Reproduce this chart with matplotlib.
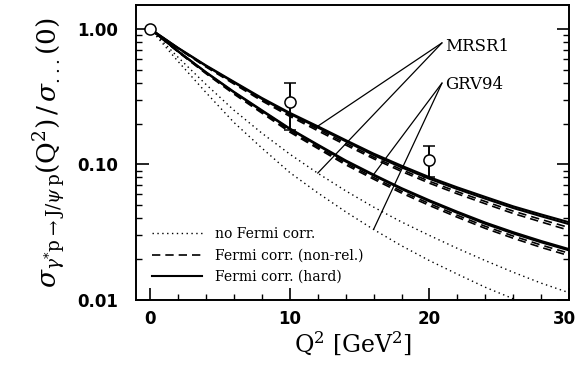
import numpy as np
import matplotlib
matplotlib.use("Agg")
import matplotlib.pyplot as plt
import matplotlib.transforms as mtransforms
from matplotlib.ticker import FixedLocator, MultipleLocator, NullFormatter

plt.rcParams["mathtext.fontset"] = "dejavuserif"

# Q^2 grid [GeV^2]
q2 = [0, 2, 4, 6, 8, 10, 12, 14, 16, 18, 20, 22, 24, 26, 28, 30]

# MRSR1 curves (upper group)
mrsr1_hard_a = [1.0, 0.724, 0.537, 0.407, 0.309, 0.240, 0.191, 0.151, 0.120, 0.0977, 0.0804, 0.0676, 0.0575, 0.0490, 0.0427, 0.0374]
mrsr1_hard_b = [1.0, 0.720, 0.532, 0.402, 0.304, 0.236, 0.187, 0.148, 0.117, 0.0950, 0.0782, 0.0657, 0.0558, 0.0476, 0.0414, 0.0362]
mrsr1_nonrel_a = [1.0, 0.718, 0.528, 0.397, 0.299, 0.231, 0.182, 0.143, 0.113, 0.0915, 0.0750, 0.0628, 0.0532, 0.0452, 0.0392, 0.0342]
mrsr1_nonrel_b = [1.0, 0.714, 0.523, 0.392, 0.294, 0.226, 0.177, 0.139, 0.110, 0.0887, 0.0726, 0.0606, 0.0512, 0.0434, 0.0376, 0.0326]
mrsr1_nofermi = [1.0, 0.617, 0.389, 0.251, 0.170, 0.119, 0.0861, 0.0638, 0.0484, 0.0376, 0.0299, 0.0240, 0.0195, 0.0160, 0.0133, 0.0113]

# GRV94 curves (lower group)
grv94_hard_a = [1.0, 0.684, 0.479, 0.343, 0.251, 0.184, 0.140, 0.107, 0.0841, 0.0668, 0.0543, 0.0447, 0.0372, 0.0316, 0.0272, 0.0237]
grv94_hard_b = [1.0, 0.681, 0.476, 0.340, 0.248, 0.182, 0.138, 0.105, 0.0828, 0.0657, 0.0533, 0.0438, 0.0364, 0.0309, 0.0266, 0.0232]
grv94_nonrel_a = [1.0, 0.678, 0.471, 0.335, 0.243, 0.177, 0.134, 0.102, 0.0800, 0.0633, 0.0513, 0.0421, 0.0349, 0.0296, 0.0254, 0.0221]
grv94_nonrel_b = [1.0, 0.675, 0.467, 0.330, 0.239, 0.173, 0.131, 0.0993, 0.0778, 0.0614, 0.0497, 0.0407, 0.0337, 0.0285, 0.0244, 0.0212]
grv94_nofermi = [1.0, 0.575, 0.339, 0.204, 0.132, 0.0871, 0.0617, 0.0447, 0.0331, 0.0251, 0.0195, 0.0155, 0.0124, 0.0102, 0.00841, 0.00692]

# data points
data_q2 = [0, 10, 20]
data_val = [1.0, 0.29, 0.107]
data_lo = [0.0, 0.11, 0.027]
data_hi = [0.0, 0.11, 0.029]

fig = plt.figure(figsize=(5.79, 3.74), dpi=100)
ax = fig.add_axes([0.235, 0.198, 0.748, 0.789])

dash = (0, (5, 3))
dots = (0, (1, 2.5))
for y in (mrsr1_hard_a, mrsr1_hard_b, grv94_hard_a, grv94_hard_b):
    ax.plot(q2, y, color="black", lw=1.5, solid_joinstyle="round")
for y in (mrsr1_nonrel_a, mrsr1_nonrel_b, grv94_nonrel_a, grv94_nonrel_b):
    ax.plot(q2, y, color="black", lw=1.2, linestyle=dash)
for y in (mrsr1_nofermi, grv94_nofermi):
    ax.plot(q2, y, color="black", lw=1.0, linestyle=dots)

ax.errorbar(data_q2, data_val, yerr=[data_lo, data_hi], fmt="o", mfc="white",
            mec="black", ecolor="black", ms=8, mew=1.1, elinewidth=1.4,
            capsize=4, capthick=1.3, zorder=5)

# curve labels with pointer lines
ax.text(21.1, 0.735, "MRSR1", fontsize=12, family="DejaVu Serif", va="center", ha="left")
ax.text(21.1, 0.385, "GRV94", fontsize=12, family="DejaVu Serif", va="center", ha="left")
for xi, yi in ((12, mrsr1_hard_a[6]), (12, mrsr1_nofermi[6])):
    ax.annotate("", xy=(xi, yi), xytext=(20.9, 0.787),
                arrowprops=dict(arrowstyle="-", color="black", lw=0.9, shrinkA=0, shrinkB=0))
for xi, yi in ((16, grv94_hard_a[8]), (16, grv94_nofermi[8])):
    ax.annotate("", xy=(xi, yi), xytext=(20.9, 0.398),
                arrowprops=dict(arrowstyle="-", color="black", lw=0.9, shrinkA=0, shrinkB=0))

# legend
h1, = ax.plot([], [], color="black", lw=1.0, linestyle=dots)
h2, = ax.plot([], [], color="black", lw=1.2, linestyle=dash)
h3, = ax.plot([], [], color="black", lw=1.5)
leg = ax.legend([h1, h2, h3], ["no Fermi corr.", "Fermi corr. (non-rel.)", "Fermi corr. (hard)"],
                loc="lower left", frameon=False, handlelength=3.6,
                handletextpad=0.9, labelspacing=0.55, borderaxespad=0.0,
                bbox_to_anchor=(0.025, 0.035), prop={"family": "DejaVu Serif", "size": 10})

ax.set_yscale("log")
ax.set_xlim(-1, 30)
ax.set_ylim(0.01, 1.5)
ax.yaxis.set_major_locator(FixedLocator([0.01, 0.1, 1.0]))
ax.set_yticklabels(["0.01", "0.10", "1.00"])
ax.yaxis.set_minor_locator(FixedLocator([k * 10.0 ** e for e in (-2, -1) for k in range(2, 10)]))
ax.yaxis.set_minor_formatter(NullFormatter())
ax.xaxis.set_major_locator(FixedLocator([0, 10, 20, 30]))
ax.set_xticklabels(["0", "10", "20", "30"])
ax.xaxis.set_minor_locator(MultipleLocator(2))

ax.tick_params(which="major", direction="in", length=9, width=1.2, labelsize=12, pad=7)
ax.tick_params(axis="y", which="major", pad=13)
ax.tick_params(which="minor", direction="in", length=4, width=1.0)
ax.tick_params(axis="y", which="both", right=True)
for lab in ax.get_xticklabels() + ax.get_yticklabels():
    lab.set_fontweight("bold")
for sp in ax.spines.values():
    sp.set_linewidth(1.4)

# keep the last x tick label inside the figure edge
last = ax.get_xticklabels()[-1]
last.set_transform(last.get_transform() + mtransforms.ScaledTranslation(-5 / 100, 0, fig.dpi_scale_trans))

ax.set_xlabel(r"Q$^2$ [GeV$^2$]", fontsize=17, family="DejaVu Serif", labelpad=2)
ax.set_ylabel(r"$\sigma_{\gamma^{*}\mathrm{p}\rightarrow\mathrm{J}/\psi\,\mathrm{p}}(\mathrm{Q}^2)\,/\,\sigma_{...}(0)$",
              fontsize=19, labelpad=6)

fig.savefig("out.png", dpi=100)
